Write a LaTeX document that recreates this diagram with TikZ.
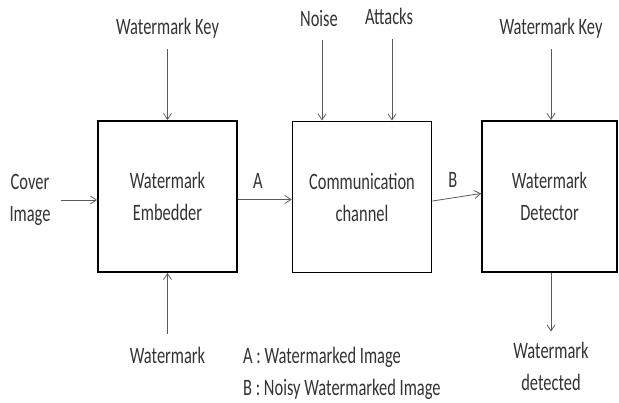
\documentclass[tikz,border=0pt]{standalone}
\usepackage{fontspec}
\setmainfont{Carlito}[FakeStretch=0.7]
\usetikzlibrary{arrows.meta,positioning}

\begin{document}
\begin{tikzpicture}[
    x=1pt, y=-1pt,
    font=\fontsize{23.5}{32}\selectfont,
    every node/.style={text=black!80},
    block/.style={draw=black, line width=1.8pt, minimum width=139pt, minimum height=151pt, align=center, inner sep=0pt},
    lbl/.style={align=center, inner sep=2pt},
    arrow/.style={-{Straight Barb[length=6pt,width=8pt]}, draw=black!65, line width=0.8pt}
]
\useasboundingbox (0,0) rectangle (619,402);

% the three blocks
\node[block] (emb) at (167.5,196.5) {Watermark\\Embedder};
\node[block] (chan) at (362,197) {Communication\\channel};
\node[block, minimum width=135pt] (det) at (549.5,196.5) {Watermark\\Detector};

% inputs and outputs
\node[lbl] (key1) at (167.5,28) {Watermark Key};
\node[lbl] (noise) at (319,18) {Noise};
\node[lbl] (att) at (389,16) {Attacks};
\node[lbl] (key2) at (551,28) {Watermark Key};
\node[lbl] (cover) at (30,200) {Cover\\Image};
\node[lbl] (wm) at (167.5,355) {Watermark};
\node[lbl] (found) at (551,366) {Watermark\\detected};
\node[lbl, align=left, anchor=west] (legend) at (241,373) {A : Watermarked Image\\B : Noisy Watermarked Image};

\draw[arrow, shorten <=9pt] (key1) -- (emb.north);
\draw[arrow, shorten <=12pt] ([xshift=3pt]noise.south) -- ([xshift=3pt]noise.south |- chan.north);
\draw[arrow, shorten <=13pt] ([xshift=3pt]att.south) -- ([xshift=3pt]att.south |- chan.north);
\draw[arrow, shorten <=9pt] (key2.south) -- (key2.south |- det.north);
\draw[arrow, shorten <=8pt] (cover.east) -- (cover.east -| emb.west);
\draw[arrow, shorten <=11pt] (wm) -- (emb.south);
\draw[arrow, shorten >=8pt] (found.north |- det.south) -- (found.north);

\draw[arrow] ([yshift=-3pt]emb.east) -- ([yshift=-2.5pt]chan.west) node[pos=0.37, above=7pt] {A};
\draw[arrow] ([yshift=-4pt]chan.east) -- ([yshift=3pt]det.west) node[pos=0.42, above=7pt] {B};
\end{tikzpicture}
\end{document}
